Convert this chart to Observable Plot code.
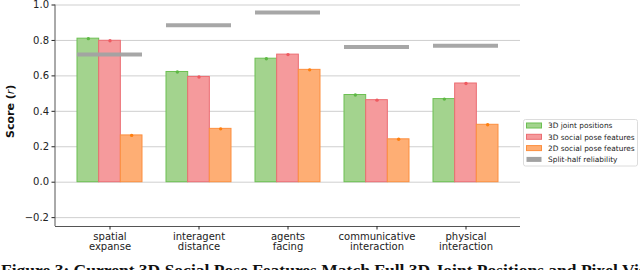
<!DOCTYPE html>
<html>
<head>
<meta charset="utf-8">
<script src="https://cdn.jsdelivr.net/npm/d3@7"></script>
<script src="https://cdn.jsdelivr.net/npm/@observablehq/plot@0.6"></script>
<style>
  html, body { margin: 0; padding: 0; background: #fff; overflow: hidden; }
  #wrap { width: 640px; height: 270px; position: relative; overflow: hidden; }
  #caption { position: absolute; left: 1px; top: 260px; font-family: "Liberation Serif", serif; font-weight: bold; font-size: 17.5px; white-space: nowrap; color: #111; }
</style>
</head>
<body>
<div id="wrap">
  <div id="chart"></div>
  <div id="caption">Figure 3: Current 3D Social Pose Features Match Full 3D Joint Positions and Pixel Vision</div>
</div>
<script>
// ---- data ----
const categories = ["spatial expanse", "interagent distance", "agents facing", "communicative interaction", "physical interaction"];
const tickLabels = ["spatial\nexpanse", "interagent\ndistance", "agents\nfacing", "communicative\ninteraction", "physical\ninteraction"];
const seriesNames = ["3D joint positions", "3D social pose features", "2D social pose features"];
const joint3D   = [0.810, 0.622, 0.697, 0.492, 0.469];
const social3D  = [0.798, 0.594, 0.720, 0.463, 0.557];
const social2D  = [0.264, 0.301, 0.634, 0.242, 0.324];
const reliability = [0.720, 0.886, 0.957, 0.763, 0.770];
const yTicks = [-0.2, 0.0, 0.2, 0.4, 0.6, 0.8, 1.0];

// ---- styles ----
const fills   = ["#a3d38e", "#f59a9c", "#feae74"];
const strokes = ["#6cc052", "#eb6d72", "#fd8f3e"];
const dotCols = ["#5db844", "#ef5a60", "#ff7f0e"];
const relColor = "#a2a2a2";

const seriesValues = [joint3D, social3D, social2D];
const rows = seriesValues.map((vals, s) => categories.map((c, i) => ({cat: c, series: seriesNames[s], value: vals[i]})));
const relRows = categories.map((c, i) => ({cat: c, value: reliability[i]}));

const W = 640, H = 260, mL = 55, mR = 120, mT = 4.5, mB = 34;
const pIn = 0.272, pOut = 0.241;
const step = (W - mL - mR) / (categories.length - pIn + 2 * pOut);
const third = step * (1 - pIn) / 3;

const marks = [
  Plot.ruleY(yTicks, {stroke: "#cfcfcf", strokeWidth: 1}),
];
rows.forEach((r, s) => {
  marks.push(Plot.barY(r, {x: "cat", y: "value", fill: fills[s], stroke: strokes[s], strokeWidth: 1,
    insetLeft: s * third, insetRight: (2 - s) * third}));
});
rows.forEach((r, s) => {
  marks.push(Plot.dot(r, {x: "cat", y: "value", dx: (s - 1) * third, r: 1.7, fill: dotCols[s], stroke: "none"}));
});
marks.push(Plot.tickY(relRows, {x: "cat", y: "value", stroke: relColor, strokeWidth: 4, strokeOpacity: 0.95}));
marks.push(Plot.ruleY([-0.25], {stroke: "#555", strokeWidth: 1}));
marks.push(Plot.axisY({ticks: yTicks, tickFormat: d3.format(".1f"), tickSize: 3.5, tickPadding: 3, fontSize: 10, label: null}));
marks.push(Plot.axisX({tickSize: 3.5, tickPadding: 3, fontSize: 10, label: null,
  tickFormat: (d) => tickLabels[categories.indexOf(d)]}));

const plot = Plot.plot({
  width: W, height: H,
  marginLeft: mL, marginRight: mR, marginTop: mT, marginBottom: mB,
  style: {fontFamily: "DejaVu Sans", fontSize: "10px", color: "#222", background: "#fff"},
  x: {type: "band", domain: categories, paddingInner: pIn, paddingOuter: pOut, axis: null},
  y: {domain: [-0.25, 1.0], axis: null},
  marks
});
document.getElementById("chart").appendChild(plot);

// left spine, y label and legend
const svg = d3.select(plot);
svg.append("line").attr("x1", mL).attr("x2", mL).attr("y1", mT).attr("y2", H - mB)
  .attr("stroke", "#555").attr("stroke-width", 1);

const lab = svg.append("text")
  .attr("transform", `translate(14,${(mT + H - mB) / 2 - 4}) rotate(-90)`)
  .attr("text-anchor", "middle").attr("font-weight", "bold").attr("font-size", 11)
  .attr("font-family", "DejaVu Sans").attr("fill", "#111");
lab.append("tspan").text("Score (");
lab.append("tspan").attr("font-style", "italic").attr("font-weight", "normal").text("r");
lab.append("tspan").text(")");

const lg = svg.append("g").attr("font-family", "DejaVu Sans").attr("font-size", 7.4).attr("text-anchor", "start");
lg.append("rect").attr("x", 523.5).attr("y", 119.5).attr("width", 114).attr("height", 46.5)
  .attr("rx", 2).attr("fill", "#fff").attr("stroke", "#dcdcdc");
const legendItems = seriesNames.map((n, s) => ({name: n, fill: fills[s], stroke: strokes[s]}))
  .concat([{name: "Split-half reliability", fill: relColor, stroke: "none"}]);
legendItems.forEach((it, k) => {
  const y = 125.5 + k * 11.3;
  lg.append("rect").attr("x", 526.5).attr("y", y - 2.5).attr("width", 15).attr("height", 5)
    .attr("fill", it.fill).attr("stroke", it.stroke);
  lg.append("text").attr("x", 548).attr("y", y + 2.7).attr("fill", "#222").attr("text-anchor", "start").text(it.name);
});
</script>
</body>
</html>
